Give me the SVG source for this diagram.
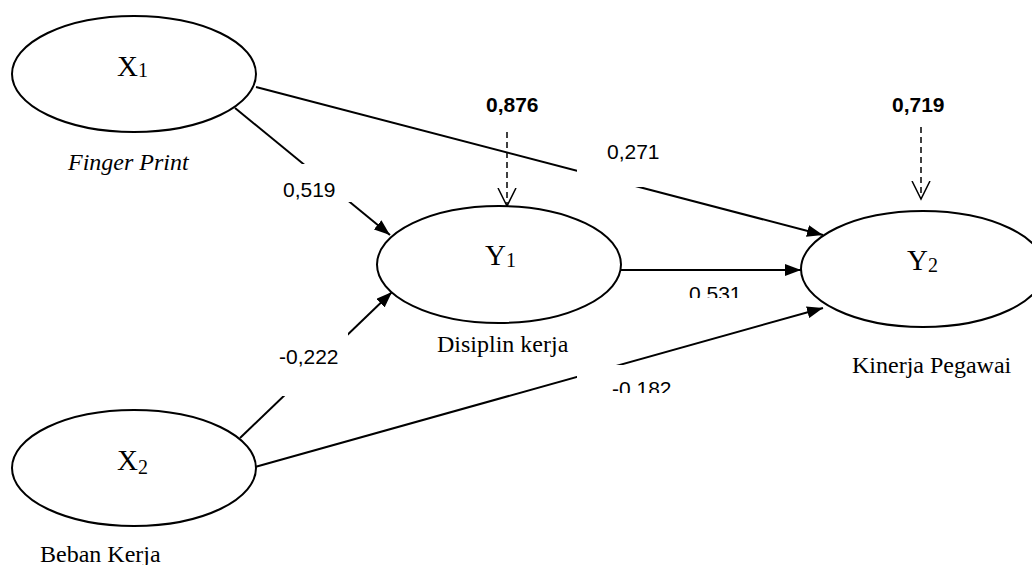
<svg xmlns="http://www.w3.org/2000/svg" width="1032" height="565" viewBox="0 0 1032 565">
<style>
.node{fill:#fff;stroke:#000;stroke-width:2}
.var{font-family:"Liberation Serif","Times New Roman",serif;font-size:29px;fill:#000}
.sub{font-size:20px}
.cap{font-family:"Liberation Serif","Times New Roman",serif;font-size:24px;fill:#000}
.num{font-family:"Liberation Sans",Arial,sans-serif;font-size:21px;fill:#000}
.bold{font-weight:bold}
.edge{stroke:#000;stroke-width:2;fill:none}
.err{stroke:#000;stroke-width:1.5;fill:none;stroke-dasharray:6,4}
.bg{fill:#fff;stroke:none}
</style>
<defs>
<marker id="arr" viewBox="0 0 16 12" markerUnits="userSpaceOnUse" markerWidth="16" markerHeight="12" refX="16" refY="6" orient="auto">
<path d="M0,0 L16,6 L0,12 z" fill="#000"/>
</marker>
<marker id="open" viewBox="0 0 20 20" markerUnits="userSpaceOnUse" markerWidth="20" markerHeight="20" refX="18" refY="10" orient="auto">
<path d="M0,1 L18,10 L0,19" fill="none" stroke="#000" stroke-width="1.5"/>
</marker>
<clipPath id="c531"><rect x="680" y="276" width="75" height="22"/></clipPath>
<clipPath id="c182"><rect x="577" y="365" width="105" height="28"/></clipPath>
</defs>
<rect width="1032" height="565" fill="#fff"/>
<g id="connectors">
<line class="edge" x1="256" y1="87" x2="823" y2="235" marker-end="url(#arr)"/>
<line class="edge" x1="235" y1="108" x2="390" y2="235" marker-end="url(#arr)"/>
<line class="edge" x1="240" y1="438" x2="392" y2="292" marker-end="url(#arr)"/>
<line class="edge" x1="255" y1="467" x2="823" y2="308" marker-end="url(#arr)"/>
<line class="edge" x1="621" y1="270" x2="801" y2="270" marker-end="url(#arr)"/>
<line class="err" x1="507" y1="132" x2="507" y2="206" marker-end="url(#open)"/>
<line class="err" x1="921" y1="127" x2="921" y2="199" marker-end="url(#open)"/>
<g id="label-0271"><rect class="bg" x="577" y="140" width="88" height="47"/><text class="num" x="607" y="159">0,271</text></g>
<g id="label-0519"><rect class="bg" x="278" y="164" width="87" height="38"/><text class="num" x="283" y="197">0,519</text></g>
<g id="label-0222"><rect class="bg" x="272" y="332" width="76" height="64"/><text class="num" x="279" y="364">-0,222</text></g>
<g id="label-0182"><rect class="bg" x="577" y="365" width="105" height="28"/><text class="num" x="612" y="396" clip-path="url(#c182)">-0.182</text></g>
<g id="label-0531"><text class="num" x="689" y="301" clip-path="url(#c531)">0.531</text></g>
<text class="num bold" x="486" y="112">0,876</text>
<text class="num bold" x="892" y="112">0,719</text>
</g>
<g id="X1">
<ellipse class="node" cx="134" cy="74" rx="122" ry="58"/>
<text class="var" x="117" y="76">X<tspan class="sub" dy="1">1</tspan></text>
<text class="cap" x="68" y="170" font-style="italic">Finger Print</text>
</g>
<g id="X2">
<ellipse class="node" cx="134" cy="468" rx="122" ry="58"/>
<text class="var" x="117" y="470">X<tspan class="sub" dy="4">2</tspan></text>
<text class="cap" x="40" y="562">Beban Kerja</text>
</g>
<g id="Y1">
<ellipse class="node" cx="499" cy="264.5" rx="122" ry="58.5"/>
<text class="var" x="485" y="265">Y<tspan class="sub" dy="2">1</tspan></text>
<text class="cap" x="437" y="352">Disiplin kerja</text>
</g>
<g id="Y2">
<ellipse class="node" cx="923" cy="269" rx="122" ry="58"/>
<text class="var" x="907" y="270">Y<tspan class="sub" dy="2">2</tspan></text>
<text class="cap" x="852" y="373">Kinerja Pegawai</text>
</g>
</svg>
